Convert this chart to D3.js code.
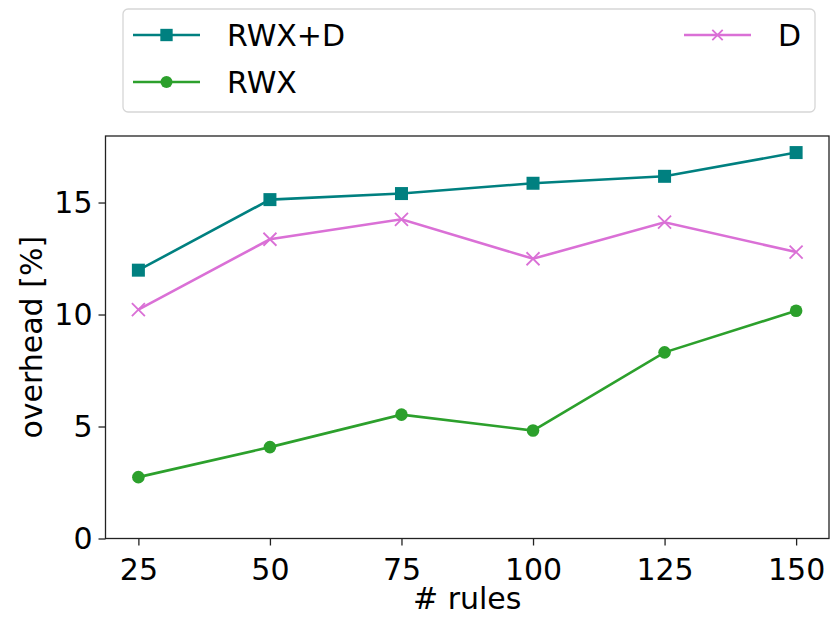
<!DOCTYPE html>
<html>
<head>
<meta charset="utf-8">
<script src="https://cdn.jsdelivr.net/npm/d3@7"></script>
<style>
  html, body { margin: 0; padding: 0; background: #fff; }
  svg { display: block; }
  text { font-family: "DejaVu Sans", sans-serif; fill: #000; }
</style>
</head>
<body>
<svg id="chart" width="833" height="618"></svg>
<script>
const rules = [25, 50, 75, 100, 125, 150];
const rwxD = [11.98, 15.13, 15.40, 15.86, 16.17, 17.23];
const rwx  = [2.74, 4.08, 5.53, 4.82, 8.31, 10.17];
const dOnly = [10.22, 13.36, 14.25, 12.49, 14.12, 12.79];
const yTicks = [0, 5, 10, 15];
const seriesNames = ["RWX+D", "RWX", "D"];

const series = [
  { name: seriesNames[0], values: rwxD, color: "#008080", marker: "square" },
  { name: seriesNames[1], values: rwx, color: "#2ca02c", marker: "circle" },
  { name: seriesNames[2], values: dOnly, color: "#da70d6", marker: "x" }
];

const svg = d3.select("#chart");
const pLeft = 105.5, pRight = 829, pTop = 136, pBottom = 538.5;
const fs = 30;

const x = d3.scaleLinear().domain([18.75, 156.25]).range([pLeft, pRight]);
const y = d3.scaleLinear().domain([0, 17.97]).range([pBottom, pTop]);

// axes
const xAxis = d3.axisBottom(x).tickValues(rules).tickSize(7).tickSizeOuter(0).tickPadding(6);
const yAxis = d3.axisLeft(y).tickValues(yTicks).tickSize(7).tickSizeOuter(0).tickPadding(6);

const gx = svg.append("g").attr("transform", `translate(0,${pBottom})`).call(xAxis);
const gy = svg.append("g").attr("transform", `translate(${pLeft},0)`).call(yAxis);
[gx, gy].forEach(g => {
  g.selectAll(".domain").remove();
  g.selectAll("line").attr("stroke", "#222").attr("stroke-width", 1.3);
  g.selectAll("text").style("font-size", fs + "px").style("font-family", "DejaVu Sans, sans-serif").attr("fill", "#000");
});
gx.selectAll("text").attr("dy", "0.95em");

// frame
svg.append("rect")
  .attr("x", pLeft).attr("y", pTop)
  .attr("width", pRight - pLeft).attr("height", pBottom - pTop)
  .attr("fill", "none").attr("stroke", "#222").attr("stroke-width", 1.3);

// labels
svg.append("text")
  .attr("x", (pLeft + pRight) / 2).attr("y", 609)
  .attr("text-anchor", "middle").style("font-size", fs + "px")
  .text("# rules");
svg.append("text")
  .attr("transform", `translate(42,${(pTop + pBottom) / 2}) rotate(-90)`)
  .attr("text-anchor", "middle").style("font-size", fs + "px")
  .text("overhead [%]");

// lines & markers
const line = d3.line().x((d, i) => x(rules[i])).y(d => y(d));

function drawMarker(g, type, cx, cy, color, scale) {
  const s = scale || 1;
  if (type === "square") {
    g.append("rect").attr("x", cx - 6.5 * s).attr("y", cy - 6.5 * s)
      .attr("width", 13 * s).attr("height", 13 * s).attr("fill", color);
  } else if (type === "circle") {
    g.append("circle").attr("cx", cx).attr("cy", cy).attr("r", 6.3 * s).attr("fill", color);
  } else {
    const r = 6.5 * s;
    g.append("path")
      .attr("d", `M${cx - r},${cy - r}L${cx + r},${cy + r}M${cx - r},${cy + r}L${cx + r},${cy - r}`)
      .attr("stroke", color).attr("stroke-width", 1.8).attr("fill", "none");
  }
}

series.forEach(s => {
  const g = svg.append("g");
  g.append("path").datum(s.values).attr("d", line)
    .attr("fill", "none").attr("stroke", s.color).attr("stroke-width", 2.6);
  s.values.forEach((v, i) => drawMarker(g, s.marker, x(rules[i]), y(v), s.color));
});

// legend
const lg = svg.append("g");
lg.append("rect").attr("x", 123).attr("y", 9).attr("width", 692).attr("height", 103)
  .attr("rx", 5).attr("fill", "#fff").attr("stroke", "#d6d6d6").attr("stroke-width", 1.3);
const legendPos = [
  { lx: 133, ly: 35 },
  { lx: 133, ly: 82 },
  { lx: 684, ly: 35 }
];
series.forEach((s, i) => {
  const p = legendPos[i];
  lg.append("line").attr("x1", p.lx).attr("x2", p.lx + 67)
    .attr("y1", p.ly).attr("y2", p.ly).attr("stroke", s.color).attr("stroke-width", 2.6);
  drawMarker(lg, s.marker, p.lx + 33.5, p.ly, s.color, s.marker === "x" ? 0.8 : 0.95);
  lg.append("text").attr("x", p.lx + 94).attr("y", p.ly + 11)
    .style("font-size", fs + "px").text(s.name);
});
</script>
</body>
</html>
